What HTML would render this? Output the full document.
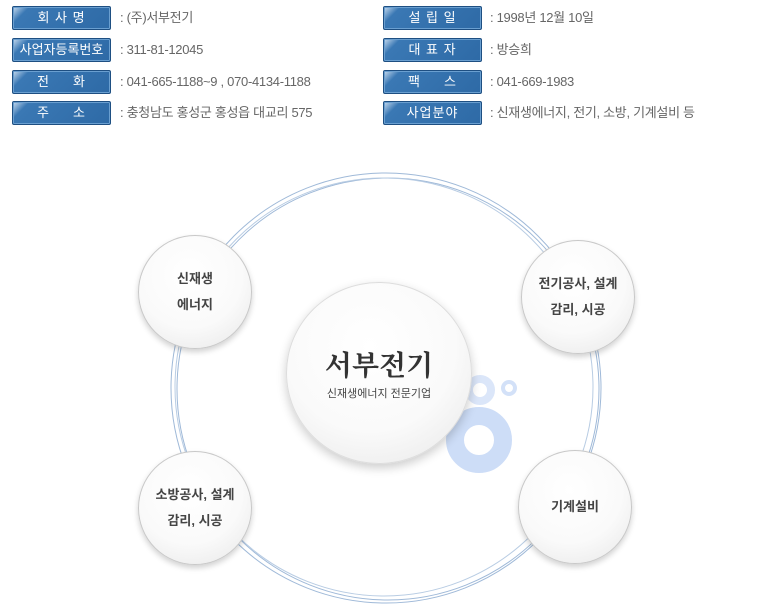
<!DOCTYPE html>
<html><head><meta charset="utf-8"><style>
body{margin:0;width:775px;height:610px;background:#fff;position:relative;overflow:hidden;font-family:"Liberation Sans","Noto Sans CJK KR","NanumGothic",sans-serif}
.b{position:absolute;width:97px;height:22px;border:1px solid #1e4f82;border-radius:2px;background:linear-gradient(135deg,#c9dcef 0%,#3a78b4 14%,#2e6aa6 100%);color:#fff;font-size:13px;line-height:22px;text-align:center;letter-spacing:1px;box-shadow:inset 0 0 0 1px #6a9fd0}
.t{position:absolute;font-size:13px;color:#666;line-height:24px;letter-spacing:-0.3px}
.c{position:absolute;border-radius:50%;background:radial-gradient(circle at 45% 35%,#fff 0%,#fafafa 55%,#e6e6e6 100%);border:1px solid #c8c8c8;box-shadow:0 3px 6px rgba(0,0,0,.18);display:flex;align-items:center;justify-content:center;text-align:center;font-weight:bold;color:#444;font-size:13px;line-height:26px}
</style></head><body>
<div class="b" style="left:12px;top:6px">회 사 명</div>
<div class="b" style="left:12px;top:38px;letter-spacing:0">사업자등록번호</div>
<div class="b" style="left:12px;top:70px">전 &nbsp; &nbsp; 화</div>
<div class="b" style="left:12px;top:101px">주 &nbsp; &nbsp; 소</div>
<div class="b" style="left:383px;top:6px">설 립 일</div>
<div class="b" style="left:383px;top:38px">대 표 자</div>
<div class="b" style="left:383px;top:70px">팩 &nbsp; &nbsp; 스</div>
<div class="b" style="left:383px;top:101px">사업분야</div>
<div class="t" style="left:120px;top:6px">: (주)서부전기</div>
<div class="t" style="left:120px;top:38px">: 311-81-12045</div>
<div class="t" style="left:120px;top:70px">: 041-665-1188~9 , 070-4134-1188</div>
<div class="t" style="left:120px;top:101px">: 충청남도 홍성군 홍성읍 대교리 575</div>
<div class="t" style="left:490px;top:6px">: 1998년 12월 10일</div>
<div class="t" style="left:490px;top:38px">: 방승희</div>
<div class="t" style="left:490px;top:70px">: 041-669-1983</div>
<div class="t" style="left:490px;top:101px">: 신재생에너지, 전기, 소방, 기계설비 등</div>
<svg style="position:absolute;left:0;top:0" width="775" height="610">
<g fill="none" stroke="#9fb9d8" stroke-width="1">
<circle cx="386" cy="388" r="215"/>
<circle cx="388" cy="389" r="211"/>
<circle cx="384" cy="387" r="209" stroke="#b8cce3"/>
</g>
<circle cx="479" cy="440" r="24" fill="none" stroke="#cdddf7" stroke-width="18"/>
<circle cx="480" cy="390" r="11" fill="none" stroke="#dbe6f9" stroke-width="8"/>
<circle cx="509" cy="388" r="6" fill="none" stroke="#d3e1f8" stroke-width="4"/>
</svg>
<div class="c" style="left:286px;top:282px;width:184px;height:180px;flex-direction:column;border-color:#ddd;box-shadow:0 4px 10px rgba(0,0,0,.2)">
<div style="font-family:'Noto Serif CJK SC','Noto Sans CJK KR',serif;font-weight:bold;font-size:28px;color:#333;line-height:34px;margin-top:4px">서부전기</div>
<div style="font-size:11px;font-weight:normal;color:#444;line-height:18px;margin-top:4px">신재생에너지 전문기업</div>
</div>
<div class="c" style="left:138px;top:235px;width:112px;height:112px">신재생<br>에너지</div>
<div class="c" style="left:521px;top:240px;width:112px;height:112px">전기공사, 설계<br>감리, 시공</div>
<div class="c" style="left:138px;top:451px;width:112px;height:112px">소방공사, 설계<br>감리, 시공</div>
<div class="c" style="left:518px;top:450px;width:112px;height:112px">기계설비</div>
</body></html>
